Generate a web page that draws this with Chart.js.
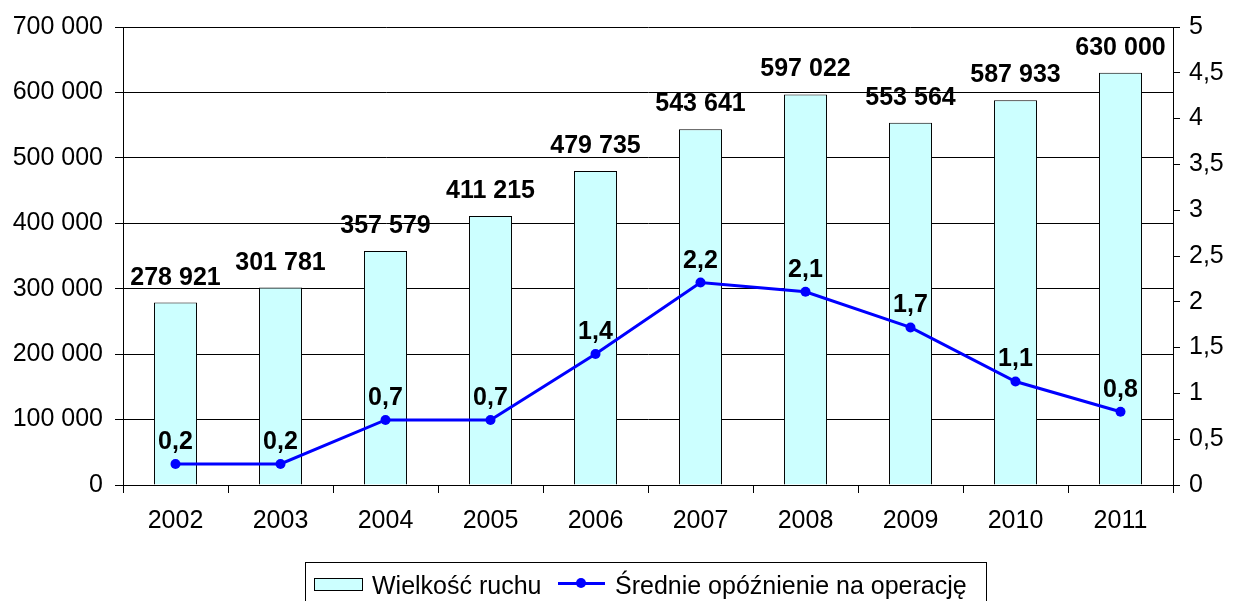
<!DOCTYPE html>
<html>
<head>
<meta charset="utf-8">
<script src="https://cdn.jsdelivr.net/npm/chart.js@4"></script>
<style>
  html, body { margin: 0; padding: 0; background: #fff; }
  #wrap { position: relative; width: 1235px; height: 601px; overflow: hidden; }
  #legend {
    position: absolute; left: 305px; top: 562px; width: 682px; height: 50px;
    border: 1px solid #000; box-sizing: border-box;
    font-family: "Liberation Sans", Arial, sans-serif; font-size: 25px; color: #000;
  }
  #legend span { position: absolute; top: 8px; white-space: nowrap; line-height: normal; }
  .swatch-bar { position: absolute; left: 8px; top: 15px; width: 49px; height: 13px; border: 1px solid #000; background: #ccffff; box-sizing: border-box; }
  .swatch-line { position: absolute; left: 252px; top: 19px; width: 47px; height: 3px; background: #0000ff; }
  .swatch-dot { position: absolute; left: 270px; top: 15px; width: 10px; height: 10px; border-radius: 50%; background: #0000ff; }
</style>
</head>
<body>
<div id="wrap">
  <canvas id="chart" width="1235" height="601"></canvas>
  <div id="legend">
    <div class="swatch-bar"></div>
    <span style="left:66px">Wielkość ruchu</span>
    <div class="swatch-line"></div>
    <div class="swatch-dot"></div>
    <span style="left:309px">Średnie opóźnienie na operację</span>
  </div>
</div>
<script>
const years = ["2002", "2003", "2004", "2005", "2006", "2007", "2008", "2009", "2010", "2011"];
const traffic = [278921, 301781, 357579, 411215, 479735, 543641, 597022, 553564, 587933, 630000];
const delay = [0.23, 0.23, 0.71, 0.71, 1.43, 2.21, 2.11, 1.72, 1.13, 0.8];

const fontFamily = '"Liberation Sans", Arial, sans-serif';

function fmtThousands(v) {
  return String(Math.round(v)).replace(/\B(?=(\d{3})+(?!\d))/g, " ");
}
function fmtComma(v, digits) {
  const s = digits == null ? String(Math.round(v * 10) / 10) : v.toFixed(digits);
  return s.replace(".", ",");
}

// value labels above bars and points
const valueLabels = {
  id: "valueLabels",
  afterDatasetsDraw(chart) {
    const ctx = chart.ctx;
    ctx.save();
    ctx.fillStyle = "#000";
    ctx.font = "bold 25px " + fontFamily;
    ctx.textAlign = "center";
    ctx.textBaseline = "alphabetic";
    chart.getDatasetMeta(0).data.forEach((el, i) => {
      ctx.fillText(fmtThousands(traffic[i]), el.x, el.y - 18);
    });
    chart.getDatasetMeta(1).data.forEach((el, i) => {
      ctx.fillText(fmtComma(delay[i], 1), el.x, el.y - 15);
    });
    ctx.restore();
  }
};

Chart.defaults.font.family = fontFamily;
Chart.defaults.font.size = 25;
Chart.defaults.color = "#000";

new Chart(document.getElementById("chart"), {
  data: {
    labels: years,
    datasets: [
      {
        type: "bar",
        label: "Wielkość ruchu",
        data: traffic,
        backgroundColor: "#ccffff",
        borderColor: "#000",
        borderWidth: 1,
        categoryPercentage: 1,
        barPercentage: 0.41,
        yAxisID: "y",
        order: 1
      },
      {
        type: "line",
        label: "Średnie opóźnienie na operację",
        data: delay,
        borderColor: "#0000ff",
        backgroundColor: "#0000ff",
        borderWidth: 3,
        pointRadius: 5,
        pointBackgroundColor: "#0000ff",
        pointBorderWidth: 0,
        tension: 0,
        yAxisID: "y1",
        order: 0
      }
    ]
  },
  options: {
    responsive: false,
    animation: false,
    devicePixelRatio: 1,
    layout: { padding: { top: 24, left: 0, right: 0, bottom: 0 } },
    plugins: {
      legend: { display: false },
      tooltip: { enabled: false }
    },
    scales: {
      x: {
        grid: { drawOnChartArea: false, color: "#000", tickLength: 8, offset: true },
        border: { color: "#000" },
        ticks: { padding: 13, maxRotation: 0 },
        afterFit(scale) { scale.height = 116; }
      },
      y: {
        position: "left",
        min: 0,
        max: 700000,
        ticks: { stepSize: 100000, padding: 12, callback: v => fmtThousands(v) },
        grid: { color: "#000", tickLength: 8 },
        border: { color: "#000" },
        afterFit(scale) { scale.width = 123; }
      },
      y1: {
        position: "right",
        min: 0,
        max: 5,
        ticks: { stepSize: 0.5, padding: 9, callback: v => fmtComma(v) },
        grid: { drawOnChartArea: false, color: "#000", tickLength: 7 },
        border: { color: "#000" },
        afterFit(scale) { scale.width = 62; }
      }
    }
  },
  plugins: [valueLabels]
});
</script>
</body>
</html>
